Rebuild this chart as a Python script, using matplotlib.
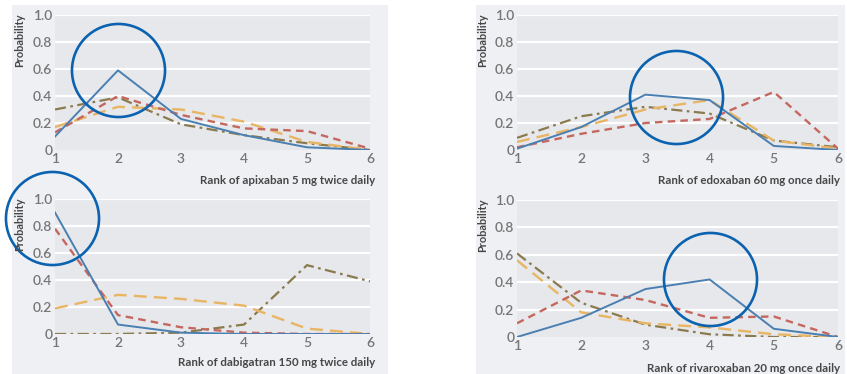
import matplotlib
matplotlib.use("Agg")
import matplotlib.pyplot as plt
from matplotlib.patches import Rectangle

plt.rcParams['font.family'] = ['Lato', 'DejaVu Sans']

ranks = [1, 2, 3, 4, 5, 6]
yticks = [0, 0.2, 0.4, 0.6, 0.8, 1.0]
ytick_labels = ["0", "0.2", "0.4", "0.6", "0.8", "1.0"]

titles = ["Rank of apixaban 5 mg twice daily",
          "Rank of edoxaban 60 mg once daily",
          "Rank of dabigatran 150 mg twice daily",
          "Rank of rivaroxaban 20 mg once daily"]

# series per panel: blue solid, red dashed, orange dashed, olive dash-dot
apix_blue = [0.10, 0.59, 0.23, 0.11, 0.02, 0.0]
apix_red = [0.13, 0.40, 0.26, 0.16, 0.14, 0.01]
apix_orange = [0.17, 0.32, 0.30, 0.21, 0.06, 0.0]
apix_olive = [0.30, 0.39, 0.19, 0.11, 0.05, 0.0]

edox_blue = [0.01, 0.17, 0.41, 0.37, 0.03, 0.0]
edox_red = [0.02, 0.12, 0.20, 0.23, 0.43, 0.01]
edox_orange = [0.06, 0.17, 0.30, 0.37, 0.07, 0.01]
edox_olive = [0.09, 0.25, 0.32, 0.27, 0.07, 0.02]

dabi_blue = [0.90, 0.07, 0.01, 0.0, 0.0, 0.0]
dabi_red = [0.78, 0.14, 0.05, 0.01, 0.0, 0.0]
dabi_orange = [0.19, 0.29, 0.26, 0.21, 0.04, 0.0]
dabi_olive = [0.0, 0.0, 0.01, 0.07, 0.51, 0.39]

riva_blue = [0.0, 0.14, 0.35, 0.42, 0.06, 0.0]
riva_red = [0.10, 0.34, 0.27, 0.14, 0.15, 0.0]
riva_orange = [0.56, 0.18, 0.10, 0.07, 0.02, 0.0]
riva_olive = [0.61, 0.25, 0.09, 0.02, 0.0, 0.0]

panels = [
    (apix_blue, apix_red, apix_orange, apix_olive),
    (edox_blue, edox_red, edox_orange, edox_olive),
    (dabi_blue, dabi_red, dabi_orange, dabi_olive),
    (riva_blue, riva_red, riva_orange, riva_olive),
]

# highlight circles (data coords of each panel)
circle_x = [2.0, 3.48, 0.95, 4.0]
circle_y = [0.59, 0.39, 0.86, 0.42]

W, H = 847, 374
fig = plt.figure(figsize=(W / 100, H / 100), dpi=100)

# panel backgrounds
for (x0, x1) in [(12, 388), (476, 845)]:
    fig.patches.append(Rectangle((x0 / W, 0), (x1 - x0) / W, (H - 5) / H,
                                 transform=fig.transFigure, facecolor="#eff0f3",
                                 edgecolor="none", zorder=-5))

# axes boxes in pixels: (left, top, right, bottom)
boxes = [(55, 15, 370, 150), (517, 15, 838, 150),
         (55, 199, 370, 334), (517, 200, 838, 337)]
label_pos = [(375, 181), (840, 181), (375, 363), (840, 368)]
ylabel_x = [20, 483, 20, 483]

colors = ["#4a7fb2", "#c4685f", "#e8b564", "#8b7a4e"]
styles = [dict(ls="-", lw=1.4),
          dict(ls=(0, (3.2, 2.2)), lw=1.7),
          dict(ls=(0, (5.5, 3.0)), lw=1.7),
          dict(ls=(0, (5.0, 2.0, 1.2, 2.0)), lw=1.6)]

for i, (l, t, r, b) in enumerate(boxes):
    ax = fig.add_axes([l / W, (H - b) / H, (r - l) / W, (b - t) / H])
    ax.set_facecolor("#e7e8eb")
    ax.set_xlim(1, 6)
    ax.set_ylim(0, 1.0)
    for s in ax.spines.values():
        s.set_visible(False)
    for g in yticks[1:]:
        ax.axhline(g, color="white", lw=1.6, zorder=1)
    ax.set_xticks(ranks)
    ax.set_xticklabels([str(v) for v in ranks])
    ax.set_yticks(yticks)
    ax.set_yticklabels(ytick_labels)
    ax.tick_params(length=0, labelsize=10, colors="#767676", pad=2)
    ax.tick_params(axis="x", pad=2)
    for lab in ax.get_xticklabels() + ax.get_yticklabels():
        lab.set_fontweight("semibold")
    for k, series in enumerate(panels[i]):
        ax.plot(ranks, series, color=colors[k], zorder=3 + (3 - k), **styles[k])
    ax.plot(circle_x[i], circle_y[i], "o", ms=67, mfc="none", mec="#0b62b0",
            mew=1.9, clip_on=False, zorder=10)
    fig.text(label_pos[i][0] / W, 1 - label_pos[i][1] / H, titles[i],
             ha="right", va="center", fontsize=8.3, fontweight="bold", color="#474747")
    fig.text(ylabel_x[i] / W, 1 - (t + 25) / H, "Probability", rotation=90,
             ha="center", va="center", fontsize=7.9, fontweight="bold", color="#474747")

fig.savefig("out.png", dpi=100)
